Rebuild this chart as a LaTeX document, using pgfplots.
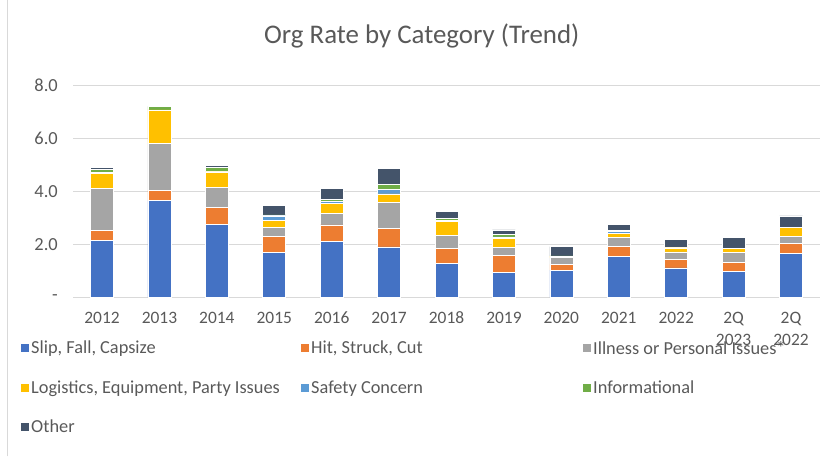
\documentclass[border=0pt]{standalone}
\usepackage{pgfplots}
\usepackage{pgfplotstable}
\pgfplotsset{compat=1.18}
\usepackage{fontspec}
\setmainfont{Carlito}
\definecolor{cSlip}{HTML}{4472C4}
\definecolor{cHit}{HTML}{ED7D31}
\definecolor{cIll}{HTML}{A5A5A5}
\definecolor{cLog}{HTML}{FFC000}
\definecolor{cSaf}{HTML}{5B9BD5}
\definecolor{cInf}{HTML}{70AD47}
\definecolor{cOth}{HTML}{44546A}
\definecolor{txt}{HTML}{595959}
\definecolor{gridc}{HTML}{D9D9D9}
\pgfplotstableread{
x slip hit ill log saf inf oth
0  2.14 0.39 1.58 0.57 0.03 0.13 0.07
1  3.65 0.39 1.77 1.27 0.00 0.13 0.00
2  2.77 0.63 0.76 0.58 0.02 0.16 0.07
3  1.70 0.61 0.33 0.27 0.17 0.04 0.35
4  2.13 0.61 0.44 0.37 0.09 0.07 0.40
5  1.91 0.69 0.98 0.33 0.18 0.17 0.62
6  1.28 0.57 0.50 0.51 0.06 0.07 0.27
7  0.96 0.64 0.30 0.34 0.05 0.09 0.17
8  1.03 0.22 0.25 0.06 0.00 0.01 0.35
9  1.55 0.39 0.32 0.17 0.05 0.05 0.24
10 1.12 0.31 0.29 0.15 0.00 0.01 0.30
11 0.98 0.35 0.36 0.17 0.00 0.00 0.42
12 1.66 0.37 0.28 0.32 0.00 0.00 0.45
}\datatable
\begin{document}
\begin{tikzpicture}[x=1bp,y=1bp]
\path (0,0) rectangle (834,456);
\draw[gridc, line width=1bp] (7,0) -- (7,456);
\node[anchor=base, text=txt, font=\fontsize{27}{30}\selectfont] at (421.7,413) {Org Rate by Category (Trend)};
\begin{axis}[
  at={(73.3bp,159bp)}, anchor=south west,
  scale only axis, width=746.4bp, height=212bp,
  ybar stacked, bar width=23bp,
  xmin=-0.5, xmax=12.5, ymin=0, ymax=8,
  axis line style={draw=none},
  ymajorgrids, xmajorgrids=false, grid style={color=gridc, line width=1.2bp},
  ytick={0,2,4,6,8}, yticklabels={-,2.0,4.0,6.0,8.0},
  xtick={0,...,12},
  xticklabels={2012,2013,2014,2015,2016,2017,2018,2019,2020,2021,2022,{2Q\\2023},{2Q\\2022}},
  major tick length=0pt, tick style={draw=none},
  tick label style={text=txt},
  xticklabel style={align=center, anchor=north, yshift=-11bp, font=\fontsize{17.5}{22}\selectfont},
  yticklabel style={anchor=east, xshift=-12bp, font=\fontsize{18.5}{22}\selectfont},
  every axis plot/.append style={draw=white, line width=0.6bp},
  legend columns=3,
  legend style={draw=none, fill=none, at={(-0.07,-0.195)}, anchor=north west,
    font=\fontsize{18.4}{22}\selectfont, text=txt,
    /tikz/every even column/.append style={column sep=0bp},
    row sep=21bp, inner sep=0pt},
  legend cell align=left,
  legend image code/.code={\fill[#1, draw=none] (0bp,-4bp) rectangle (8bp,4bp);},
]
\addplot[fill=cSlip] table[x=x,y=slip]{\datatable};
\addlegendentry{\makebox[268bp][l]{Slip, Fall, Capsize}}
\addplot[fill=cHit] table[x=x,y=hit]{\datatable};
\addlegendentry{\makebox[270bp][l]{Hit, Struck, Cut}}
\addplot[fill=cIll] table[x=x,y=ill]{\datatable};
\addlegendentry{Illness or Personal Issues*}
\addplot[fill=cLog] table[x=x,y=log]{\datatable};
\addlegendentry{Logistics, Equipment, Party Issues}
\addplot[fill=cSaf] table[x=x,y=saf]{\datatable};
\addlegendentry{Safety Concern}
\addplot[fill=cInf] table[x=x,y=inf]{\datatable};
\addlegendentry{Informational}
\addplot[fill=cOth] table[x=x,y=oth]{\datatable};
\addlegendentry{Other}
\end{axis}
\end{tikzpicture}
\end{document}
